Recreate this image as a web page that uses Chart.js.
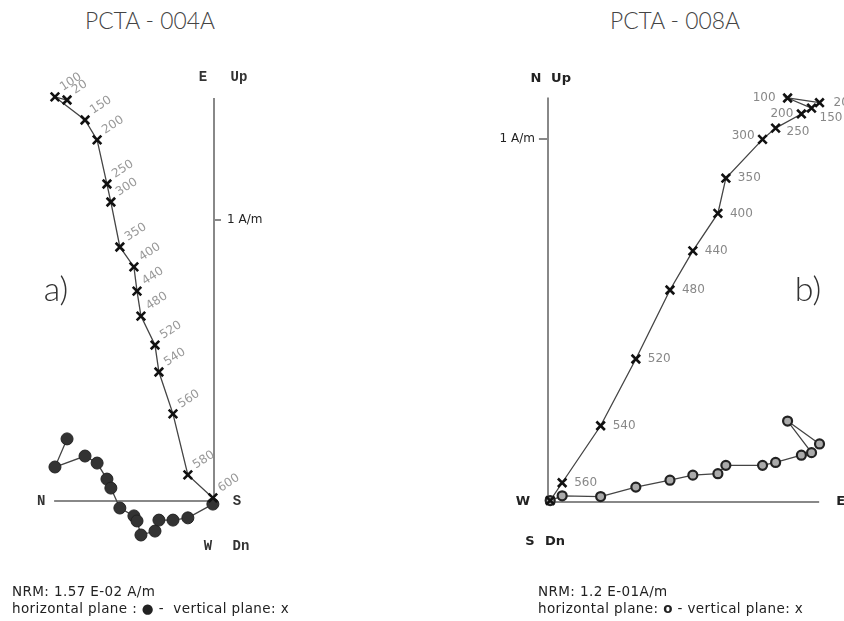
<!DOCTYPE html>
<html>
<head>
<meta charset="utf-8">
<script src="https://cdn.jsdelivr.net/npm/chart.js@4.4.1/dist/chart.umd.min.js"></script>
<style>
  body { margin: 0; background: #fff; }
  #wrap { position: relative; width: 844px; height: 621px; overflow: hidden; }
  .panel { position: absolute; top: 0; width: 422px; height: 621px; }
  #pA { left: 0; }
  #pB { left: 422px; }
  .title { position: absolute; top: 5px; font-family: 'Lato'; font-weight: 300; font-size: 24px; color: #444; transform-origin: left top; transform: scaleX(0.95); }
  .cap { position: absolute; left: 0; font-family: 'DejaVu Sans', sans-serif; font-size: 13.5px; letter-spacing: 0.4px; color: #222; line-height: 17px; white-space: pre; }
</style>
</head>
<body>
<div id="wrap">
  <div class="title" style="left:85px">PCTA - 004A</div>
  <div class="title" style="left:610px">PCTA - 008A</div>
  <div class="panel" id="pA"><canvas id="chartA" width="422" height="621"></canvas></div>
  <div class="panel" id="pB"><canvas id="chartB" width="422" height="621"></canvas></div>
  <div class="cap" style="left:12px; top:583px">NRM: 1.57 E-02 A/m
horizontal plane : ● -  vertical plane: x</div>
  <div class="cap" style="left:538px; top:583px">NRM: 1.2 E-01A/m
horizontal plane: <b>o</b> - vertical plane: x</div>
</div>
<script>
// demagnetisation steps (°C) and components in A/m
const stepsA = ['20', '100', '150', '200', '250', '300', '350', '400', '440', '480', '520', '540', '560', '580', '600'];
const horizA_A = [-0.523, -0.566, -0.459, -0.416, -0.381, -0.367, -0.335, -0.285, -0.274, -0.260, -0.210, -0.196, -0.146, -0.093, -0.004];
const vertA = [1.427, 1.438, 1.356, 1.285, 1.128, 1.064, 0.904, 0.833, 0.747, 0.658, 0.555, 0.459, 0.310, 0.093, 0.011];
const horizB_A = [0.221, 0.121, 0.160, 0.135, 0.078, 0.046, -0.025, -0.053, -0.071, -0.121, -0.107, -0.068, -0.068, -0.060, -0.011];

const stepsB = ['20', '100', '150', '200', '250', '300', '350', '400', '440', '480', '520', '540', '560', ''];
const horizA_B = [0.748, 0.660, 0.726, 0.698, 0.627, 0.591, 0.490, 0.468, 0.399, 0.336, 0.242, 0.145, 0.039, 0.006];
const vertB = [1.100, 1.113, 1.085, 1.069, 1.030, 0.999, 0.892, 0.795, 0.692, 0.584, 0.394, 0.210, 0.053, 0.004];
const horizB_B = [0.160, 0.223, 0.136, 0.129, 0.109, 0.101, 0.101, 0.078, 0.074, 0.060, 0.041, 0.015, 0.017, 0.004];

// axis extents (A/m)
const axisA = { left: -0.569, top: 1.434, tick: 1 };
const axisB = { right: 0.747, top: 1.114, tick: 1 };

function pts(xs, ys) {
  return xs.map((x, i) => ({ x: x, y: ys[i] }));
}

function axisSet(data) {
  return { data: data, showLine: true, borderColor: '#888', borderWidth: 2, pointRadius: 0, order: 3 };
}

function baseOptions(xr, yr) {
  return {
    responsive: false,
    animation: false,
    layout: { padding: 0, autoPadding: false },
    plugins: { legend: { display: false }, tooltip: { enabled: false } },
    scales: {
      x: { type: 'linear', min: xr[0], max: xr[1], display: false },
      y: { type: 'linear', min: yr[0], max: yr[1], display: false }
    }
  };
}

// ---- chart a) ----
const annotA = {
  id: 'annotA',
  afterDatasetsDraw(chart) {
    const ctx = chart.ctx;
    const x = chart.scales.x, y = chart.scales.y;
    const ox = x.getPixelForValue(0), oy = y.getPixelForValue(0);
    const ty = y.getPixelForValue(axisA.top);
    ctx.save();
    // step labels, rotated
    const meta = chart.getDatasetMeta(3);
    ctx.fillStyle = '#999';
    ctx.font = '12px "DejaVu Sans"';
    ctx.textBaseline = 'alphabetic';
    ctx.textAlign = 'left';
    meta.data.forEach((p, i) => {
      ctx.save();
      ctx.translate(p.x + 8, p.y - 6);
      ctx.rotate(-33 * Math.PI / 180);
      ctx.fillText(stepsA[i], 0, 0);
      ctx.restore();
    });
    // axis names
    ctx.fillStyle = '#333';
    ctx.font = 'bold 14px "Liberation Mono"';
    ctx.textAlign = 'center';
    ctx.textBaseline = 'middle';
    ctx.fillText('E', ox - 11, ty - 21);
    ctx.fillText('Up', ox + 25, ty - 21);
    ctx.fillText('N', x.getPixelForValue(axisA.left) - 13, oy);
    ctx.fillText('S', ox + 23, oy);
    ctx.fillText('W', ox - 6, oy + 45);
    ctx.fillText('Dn', ox + 27, oy + 45);
    // scale
    ctx.font = '12px "DejaVu Sans"';
    ctx.textAlign = 'left';
    ctx.fillStyle = '#222';
    ctx.fillText('1 A/m', ox + 13, y.getPixelForValue(axisA.tick));
    // panel letter
    ctx.font = '300 34px "Lato"';
    ctx.textAlign = 'center';
    ctx.fillStyle = '#333';
    ctx.fillText('a)', 56, 290);
    ctx.restore();
  }
};

new Chart(document.getElementById('chartA'), {
  type: 'scatter',
  data: {
    datasets: [
      axisSet([{ x: 0, y: 0 }, { x: 0, y: axisA.top }]),
      axisSet([{ x: axisA.left, y: 0 }, { x: 0, y: 0 }]),
      axisSet([{ x: 0, y: axisA.tick }, { x: 0.025, y: axisA.tick }]),
      {
        label: 'vertical plane',
        data: pts(horizA_A, vertA),
        showLine: true,
        borderColor: '#444',
        borderWidth: 1.3,
        pointStyle: 'crossRot',
        pointRadius: 6,
        pointBorderWidth: 2.6,
        pointBorderColor: '#111',
        order: 1
      },
      {
        label: 'horizontal plane',
        data: pts(horizA_A, horizB_A),
        showLine: true,
        borderColor: '#444',
        borderWidth: 1.3,
        pointStyle: 'circle',
        pointRadius: 6,
        pointBackgroundColor: '#333',
        pointBorderColor: '#222',
        pointBorderWidth: 1,
        order: 2
      }
    ]
  },
  options: baseOptions([-214 / 281, 208 / 281], [-120 / 281, 501 / 281]),
  plugins: [annotA]
});

// ---- chart b) ----
const labelPosB = {
  '20': [14, 0, 'left'], '100': [-12, 0, 'right'], '150': [8, 10, 'left'],
  '200': [-8, 0, 'right'], '250': [11, 4, 'left'], '300': [-8, -3, 'right']
};

const annotB = {
  id: 'annotB',
  afterDatasetsDraw(chart) {
    const ctx = chart.ctx;
    const x = chart.scales.x, y = chart.scales.y;
    const ox = x.getPixelForValue(0), oy = y.getPixelForValue(0);
    const ty = y.getPixelForValue(axisB.top);
    ctx.save();
    const meta = chart.getDatasetMeta(3);
    ctx.fillStyle = '#888';
    ctx.font = '12px "DejaVu Sans"';
    ctx.textBaseline = 'middle';
    meta.data.forEach((p, i) => {
      const s = stepsB[i];
      if (!s) return;
      const pos = labelPosB[s] || [12, 0, 'left'];
      ctx.textAlign = pos[2];
      ctx.fillText(s, p.x + pos[0], p.y + pos[1]);
    });
    // axis names
    ctx.fillStyle = '#222';
    ctx.font = 'bold 13px "DejaVu Sans"';
    ctx.textAlign = 'center';
    ctx.fillText('N', ox - 12, ty - 19);
    ctx.fillText('Up', ox + 13, ty - 19);
    ctx.fillText('W', ox - 25, oy);
    ctx.fillText('S', ox - 18, oy + 40);
    ctx.fillText('Dn', ox + 7, oy + 40);
    ctx.textAlign = 'left';
    ctx.fillText('E', x.getPixelForValue(axisB.right) + 17, oy);
    // scale
    ctx.font = '12px "DejaVu Sans"';
    ctx.textAlign = 'right';
    ctx.fillText('1 A/m', ox - 13, y.getPixelForValue(axisB.tick));
    // panel letter
    ctx.font = '300 34px "Lato"';
    ctx.textAlign = 'center';
    ctx.fillStyle = '#333';
    ctx.fillText('b)', 386, 290);
    ctx.restore();
  }
};

new Chart(document.getElementById('chartB'), {
  type: 'scatter',
  data: {
    datasets: [
      axisSet([{ x: 0, y: 0 }, { x: 0, y: axisB.top }]),
      axisSet([{ x: 0, y: 0 }, { x: axisB.right, y: 0 }]),
      axisSet([{ x: -0.025, y: axisB.tick }, { x: 0, y: axisB.tick }]),
      {
        label: 'vertical plane',
        data: pts(horizA_B, vertB),
        showLine: true,
        borderColor: '#444',
        borderWidth: 1.3,
        pointStyle: 'crossRot',
        pointRadius: 6,
        pointBorderWidth: 2.6,
        pointBorderColor: '#111',
        order: 1
      },
      {
        label: 'horizontal plane',
        data: pts(horizA_B, horizB_B),
        showLine: true,
        borderColor: '#444',
        borderWidth: 1.3,
        pointStyle: 'circle',
        pointRadius: 4.5,
        pointBackgroundColor: '#aaa',
        pointBorderColor: '#222',
        pointBorderWidth: 2.2,
        order: 2
      }
    ]
  },
  options: baseOptions([-126 / 363, 296 / 363], [-119 / 363, 502 / 363]),
  plugins: [annotB]
});
</script>
</body>
</html>
